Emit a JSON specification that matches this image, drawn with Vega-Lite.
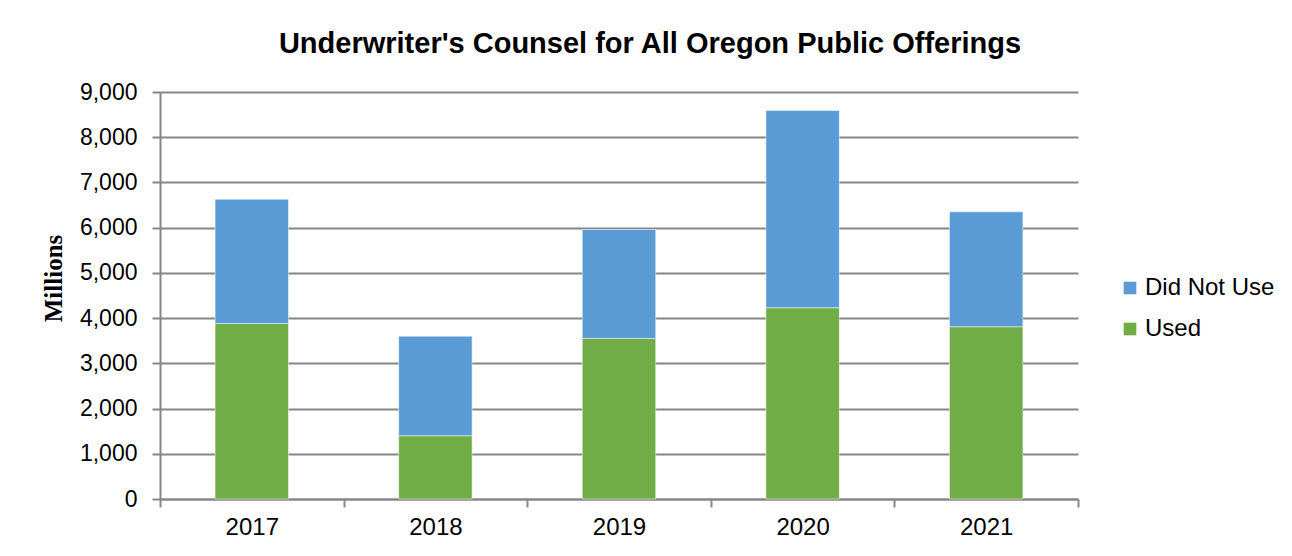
{
  "$schema": "https://vega.github.io/schema/vega-lite/v6.json",
  "width": 918,
  "height": 407,
  "autosize": {"type": "none"},
  "padding": {"left": 160, "top": 92, "right": 214, "bottom": 57},
  "background": "white",
  "title": {
    "text": "Underwriter's Counsel for All Oregon Public Offerings",
    "font": "Liberation Sans",
    "fontSize": 29,
    "fontWeight": "bold",
    "color": "#000000",
    "anchor": "middle",
    "offset": 22,
    "dx": 31
  },
  "data": {
    "values": [
      {"year": "2017", "type": "Used", "value": 3880, "ord": 1},
      {"year": "2017", "type": "Did Not Use", "value": 2750, "ord": 2},
      {"year": "2018", "type": "Used", "value": 1400, "ord": 1},
      {"year": "2018", "type": "Did Not Use", "value": 2200, "ord": 2},
      {"year": "2019", "type": "Used", "value": 3550, "ord": 1},
      {"year": "2019", "type": "Did Not Use", "value": 2410, "ord": 2},
      {"year": "2020", "type": "Used", "value": 4230, "ord": 1},
      {"year": "2020", "type": "Did Not Use", "value": 4360, "ord": 2},
      {"year": "2021", "type": "Used", "value": 3810, "ord": 1},
      {"year": "2021", "type": "Did Not Use", "value": 2540, "ord": 2}
    ]
  },
  "mark": {"type": "bar", "stroke": "white", "strokeWidth": 0.5, "width": {"band": 0.4}},
  "encoding": {
    "x": {
      "field": "year",
      "type": "nominal",
      "scale": {"paddingInner": 0, "paddingOuter": 0},
      "axis": {
        "title": null,
        "labelAngle": 0,
        "labelFont": "Liberation Sans",
        "labelFontSize": 24,
        "labelColor": "#000000",
        "labelPadding": 8,
        "tickBand": "extent",
        "tickSize": 8,
        "tickColor": "#868686",
        "tickWidth": 2,
        "domainColor": "#868686",
        "domainWidth": 2,
        "grid": false
      }
    },
    "y": {
      "field": "value",
      "type": "quantitative",
      "stack": "zero",
      "scale": {"domain": [0, 9000], "nice": false},
      "axis": {
        "title": "Millions",
        "titleFont": "Liberation Serif",
        "titleFontSize": 25,
        "titleFontWeight": "bold",
        "titleColor": "#000000",
        "titleAngle": -90,
        "titleAlign": "center",
        "titleBaseline": "middle",
        "titleX": -107,
        "titleY": 186,
        "values": [0, 1000, 2000, 3000, 4000, 5000, 6000, 7000, 8000, 9000],
        "format": ",d",
        "labelFont": "Liberation Sans",
        "labelFontSize": 23,
        "labelColor": "#000000",
        "labelPadding": 15,
        "tickSize": 8,
        "tickColor": "#868686",
        "tickWidth": 2,
        "domainColor": "#868686",
        "domainWidth": 2,
        "grid": true,
        "gridColor": "#868686",
        "gridWidth": 2
      }
    },
    "color": {
      "field": "type",
      "type": "nominal",
      "scale": {"domain": ["Did Not Use", "Used"], "range": ["#5B9BD5", "#70AD47"]},
      "legend": {
        "title": null,
        "orient": "none",
        "legendX": 958,
        "legendY": 184,
        "symbolType": "square",
        "symbolSize": 160,
        "symbolStrokeWidth": 0,
        "labelFont": "Liberation Sans",
        "labelFontSize": 24,
        "labelColor": "#000000",
        "labelOffset": 3,
        "rowPadding": 17
      }
    },
    "order": {"field": "ord", "type": "quantitative"}
  },
  "config": {"view": {"stroke": null}}
}
